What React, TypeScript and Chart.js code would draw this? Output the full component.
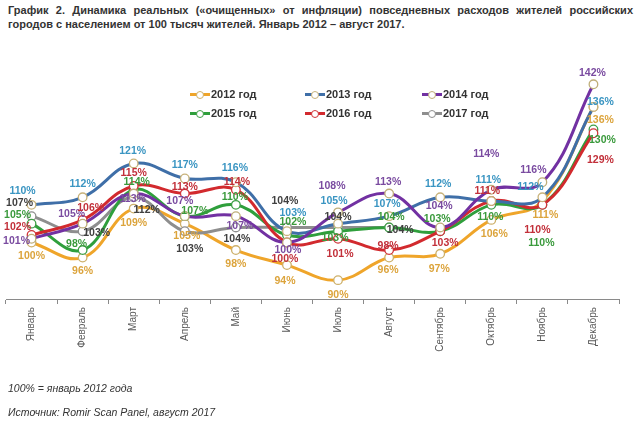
import React, { useEffect, useRef } from "react";
import { Chart, registerables } from "chart.js";

Chart.register(...registerables);

const months = ["Январь", "Февраль", "Март", "Апрель", "Май", "Июнь", "Июль", "Август", "Сентябрь", "Октябрь", "Ноябрь", "Декабрь"];
const seriesNames = ["2012 год", "2013 год", "2014 год", "2015 год", "2016 год", "2017 год"];
const y2012 = [100, 96, 109, 105, 98, 94, 90, 96, 97, 106, 111, 136];
const y2013 = [110, 112, 121, 117, 116, 103, 105, 107, 112, 111, 112, 136];
const y2014 = [101, 105, 113, 107, 107, 100, 108, 113, 104, 114, 116, 142];
const y2015 = [105, 98, 114, 107, 110, 102, 103, 104, 103, 110, 110, 130];
const y2016 = [102, 106, 115, 113, 114, 100, 101, 98, 103, 111, 110, 129];
const y2017 = [107, 103, 112, 103, 104, 104, 104, 104];

const lineColors = ["#EFA52A", "#3F6FA8", "#7231A2", "#2F9F3C", "#D22A2E", "#8E8E8E"];
const labelColors = ["#DCA43C", "#3A95C2", "#7A4BA0", "#3A9A3C", "#C2303A", "#404040"];
const markerBorders = ["#CDB06A", "#C8B27A", "#BFAE78", "#3E9F46", "#D0353A", "#8E8E8E"];

// label offsets (dx, dy) relative to each point — layout only
const labelOffsets: number[][][] = [
  [[0, 14], [0, 14], [0, 15], [2, 12], [0, 14], [-2, 16], [0, 15], [-1, 13], [-1, 15], [3, 14], [3, 14], [7, 13]],
  [[-9, -14], [0, -13], [-1, -12], [0, -13], [-1, -14], [6, -18], [-4, -23], [-2, -12], [-2, -13], [-3, -21], [-12, -10], [7, -5]],
  [[-15, 2], [-11, -10], [-1, 6], [-5, -15], [4, 10], [1, 8], [-6, -26], [-1, -11], [-1, -21], [-5, -36], [-9, -12], [-1, -11]],
  [[-14, -9], [-6, -6], [3, -8], [10, -5], [-1, -8], [6, -13], [-3, 7], [2, -10], [-3, -12], [-1, 12], [-1, 38], [9, 11]],
  [[-14, -8], [8, -12], [0, -13], [0, -6], [1, -8], [-2, 17], [2, 15], [-1, -4], [5, 12], [-4, -10], [-5, 25], [7, 27]],
  [[-12, -13], [14, 2], [13, 13], [5, 18], [1, 12], [-2, -26], [0, -10], [11, 3]],
];

const FONT = "'Liberation Sans', Arial, sans-serif";

const labelPlugin = {
  id: "pointLabels",
  afterDatasetsDraw(chart: any) {
    const ctx = chart.ctx;
    ctx.save();
    ctx.font = `bold 10.5px ${FONT}`;
    ctx.textAlign = "center";
    ctx.textBaseline = "middle";
    chart.data.datasets.forEach((ds: any, i: number) => {
      const meta = chart.getDatasetMeta(i);
      meta.data.forEach((pt: any, j: number) => {
        const off = (labelOffsets[i] && labelOffsets[i][j]) || [0, -12];
        ctx.fillStyle = labelColors[i];
        ctx.fillText(`${ds.data[j]}%`, pt.x + off[0], pt.y + off[1]);
      });
    });
    ctx.restore();
  },
};

export default function App() {
  const ref = useRef<HTMLCanvasElement | null>(null);

  useEffect(() => {
    if (!ref.current) return;
    const all = [y2012, y2013, y2014, y2015, y2016, y2017];
    const chart = new Chart(ref.current, {
      type: "line",
      data: {
        labels: months,
        datasets: all.map((d, i) => ({
          label: seriesNames[i],
          data: d,
          borderColor: lineColors[i],
          backgroundColor: lineColors[i],
          borderWidth: 3,
          tension: 0.4,
          pointRadius: 4.3,
          pointBorderWidth: 1.3,
          pointBackgroundColor: "#FFFFFF",
          pointBorderColor: markerBorders[i],
          fill: false,
          clip: false as any,
          order: [5, 1, 0, 3, 2, 4][i],
        })),
      },
      options: {
        responsive: false,
        animation: false,
        layout: { padding: { left: 6, right: 21, top: 73, bottom: 67 } },
        plugins: {
          legend: { display: false },
          tooltip: { enabled: false },
          title: { display: false },
        },
        scales: {
          y: { display: false, min: 85, max: 145 },
          x: {
            offset: true,
            afterFit: (s: any) => {
              s.height = 60;
            },
            border: { display: true, color: "#8A8A8A", width: 1 },
            grid: {
              offset: true,
              drawOnChartArea: false,
              drawTicks: true,
              tickLength: 5,
              color: "#8A8A8A",
            },
            ticks: {
              minRotation: 90,
              maxRotation: 90,
              autoSkip: false,
              color: "#595959",
              padding: 3,
              font: { family: FONT, size: 10 },
            },
          },
        },
      },
      plugins: [labelPlugin],
    });
    return () => chart.destroy();
  }, []);

  const legendCols = [190, 305, 422];
  const legendRows = [94, 113];

  return (
    <div style={{ position: "absolute", left: 0, top: 0, width: 640, height: 426, background: "#fff", fontFamily: FONT, color: "#333" }}>
      <div style={{ position: "absolute", left: 8, top: 3, width: 625, fontWeight: "bold", fontSize: 11, lineHeight: "14px" }}>
        <div style={{ textAlign: "justify", textAlignLast: "justify" as any, whiteSpace: "nowrap" as any }}>
          График 2. Динамика реальных («очищенных» от инфляции) повседневных расходов жителей российских
        </div>
        <div>городов с населением от 100 тысяч жителей. Январь 2012 – август 2017.</div>
      </div>
      <canvas ref={ref} width={640} height={426} style={{ position: "absolute", left: 0, top: 0, width: 640, height: 426 }} />
      {seriesNames.map((name, i) => {
        const x = legendCols[i % 3];
        const y = legendRows[Math.floor(i / 3)];
        return (
          <div key={name} style={{ position: "absolute", left: x, top: y - 7, height: 14, display: "flex", alignItems: "center" }}>
            <div style={{ position: "relative", width: 20, height: 14 }}>
              <div style={{ position: "absolute", left: 0, top: 5.5, width: 20, height: 3, background: lineColors[i] }} />
              <div style={{ position: "absolute", left: 6, top: 3.5, width: 6, height: 6, borderRadius: 4, background: "#fff", border: `1px solid ${markerBorders[i]}` }} />
            </div>
            <span style={{ marginLeft: 1, fontWeight: "bold", fontSize: 11, color: "#333", whiteSpace: "nowrap" }}>{name}</span>
          </div>
        );
      })}
      <div style={{ position: "absolute", left: 8, top: 382, fontStyle: "italic", fontSize: 10.5, color: "#333" }}>100% = январь 2012 года</div>
      <div style={{ position: "absolute", left: 8, top: 406, fontStyle: "italic", fontSize: 10.5, color: "#333" }}>Источник: Romir Scan Panel, август 2017</div>
    </div>
  );
}
